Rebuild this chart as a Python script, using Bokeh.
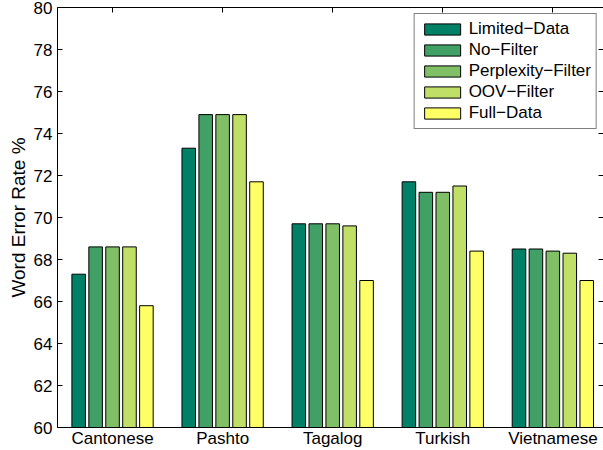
from bokeh.plotting import figure
from bokeh.models import LinearAxis, FixedTicker, Range1d, Legend, LegendItem
from bokeh.embed import file_html
from bokeh.resources import INLINE

languages = ["Cantonese", "Pashto", "Tagalog", "Turkish", "Vietnamese"]
series_names = ["Limited\u2212Data", "No\u2212Filter", "Perplexity\u2212Filter", "OOV\u2212Filter", "Full\u2212Data"]
limited_data = [67.3, 73.3, 69.7, 71.7, 68.5]
no_filter = [68.6, 74.9, 69.7, 71.2, 68.5]
perplexity_filter = [68.6, 74.9, 69.7, 71.2, 68.4]
oov_filter = [68.6, 74.9, 69.6, 71.5, 68.3]
full_data = [65.8, 71.7, 67.0, 68.4, 67.0]
y_ticks = [60, 62, 64, 66, 68, 70, 72, 74, 76, 78, 80]

colors = ["#008066", "#40A066", "#80BF66", "#BFDF66", "#FFFF66"]
series = [limited_data, no_filter, perplexity_filter, oov_filter, full_data]

FONT = "Liberation Sans"

p = figure(width=603, height=450, output_backend="svg", toolbar_location=None,
           x_range=Range1d(0.5, 5.46), y_range=Range1d(60, 80),
           min_border_left=57, min_border_right=0, min_border_top=7, min_border_bottom=23,
           x_axis_location=None, y_axis_location=None)
p.outline_line_color = None
p.xgrid.visible = False
p.ygrid.visible = False
p.background_fill_color = "white"
p.border_fill_color = "white"

n = len(series)
group_width = min(0.8, n / (n + 1.5))
pitch = group_width / n
bar_w = pitch * 0.8
cat_pos = [i + 1 for i in range(len(languages))]

renderers = []
for k, (vals, col) in enumerate(zip(series, colors)):
    xs = [c + (k - (n - 1) / 2) * pitch for c in cat_pos]
    r = p.vbar(x=xs, top=vals, bottom=60, width=bar_w, fill_color=col,
               line_color="black", line_width=1)
    renderers.append(r)

def style(ax):
    ax.axis_line_color = "black"
    ax.axis_line_width = 1
    ax.major_tick_line_color = "black"
    ax.minor_tick_line_color = None
    ax.minor_tick_in = 0
    ax.minor_tick_out = 0
    ax.major_label_text_font = FONT
    ax.major_label_text_font_size = "17px"
    ax.major_label_text_color = "black"
    ax.axis_label_text_font = FONT
    ax.axis_label_text_color = "black"
    ax.axis_label_text_font_style = "normal"

left = LinearAxis(ticker=FixedTicker(ticks=y_ticks), axis_label="Word Error Rate %")
style(left)
left.major_tick_in = 5
left.major_tick_out = 0
left.major_label_standoff = 5
left.axis_label_text_font_size = "19px"
left.axis_label_standoff = 2
p.add_layout(left, "left")

right = LinearAxis(ticker=FixedTicker(ticks=y_ticks),
                   major_label_overrides={t: "" for t in y_ticks})
style(right)
right.major_label_text_font_size = "6px"
right.major_tick_in = 5
right.major_tick_out = 0
right.major_label_standoff = 0
right.axis_label_standoff = 0
right.axis_line_color = None
p.add_layout(right, "right")

bottom = LinearAxis(ticker=FixedTicker(ticks=cat_pos),
                    major_label_overrides={c: l for c, l in zip(cat_pos, languages)})
style(bottom)
bottom.major_tick_in = 0
bottom.major_tick_out = 0
bottom.major_label_standoff = 1
p.add_layout(bottom, "below")

top = LinearAxis(ticker=FixedTicker(ticks=cat_pos),
                 major_label_overrides={c: "" for c in cat_pos})
style(top)
top.major_label_text_font_size = "6px"
top.major_tick_in = 5
top.major_tick_out = 0
top.major_label_standoff = 0
p.add_layout(top, "above")

legend = Legend(items=[LegendItem(label=nm, renderers=[r]) for nm, r in zip(series_names, renderers)],
                location="top_right")
legend.margin = 6
legend.padding = 5
legend.spacing = 1
legend.glyph_width = 45
legend.glyph_height = 14
legend.label_height = 14
legend.label_standoff = 4
legend.label_text_font = FONT
legend.label_text_font_size = "17px"
legend.label_text_color = "black"
legend.border_line_color = "black"
legend.border_line_width = 1
legend.background_fill_color = "white"
legend.background_fill_alpha = 1
p.add_layout(legend)

open("out.html", "w").write(file_html(p, INLINE))
